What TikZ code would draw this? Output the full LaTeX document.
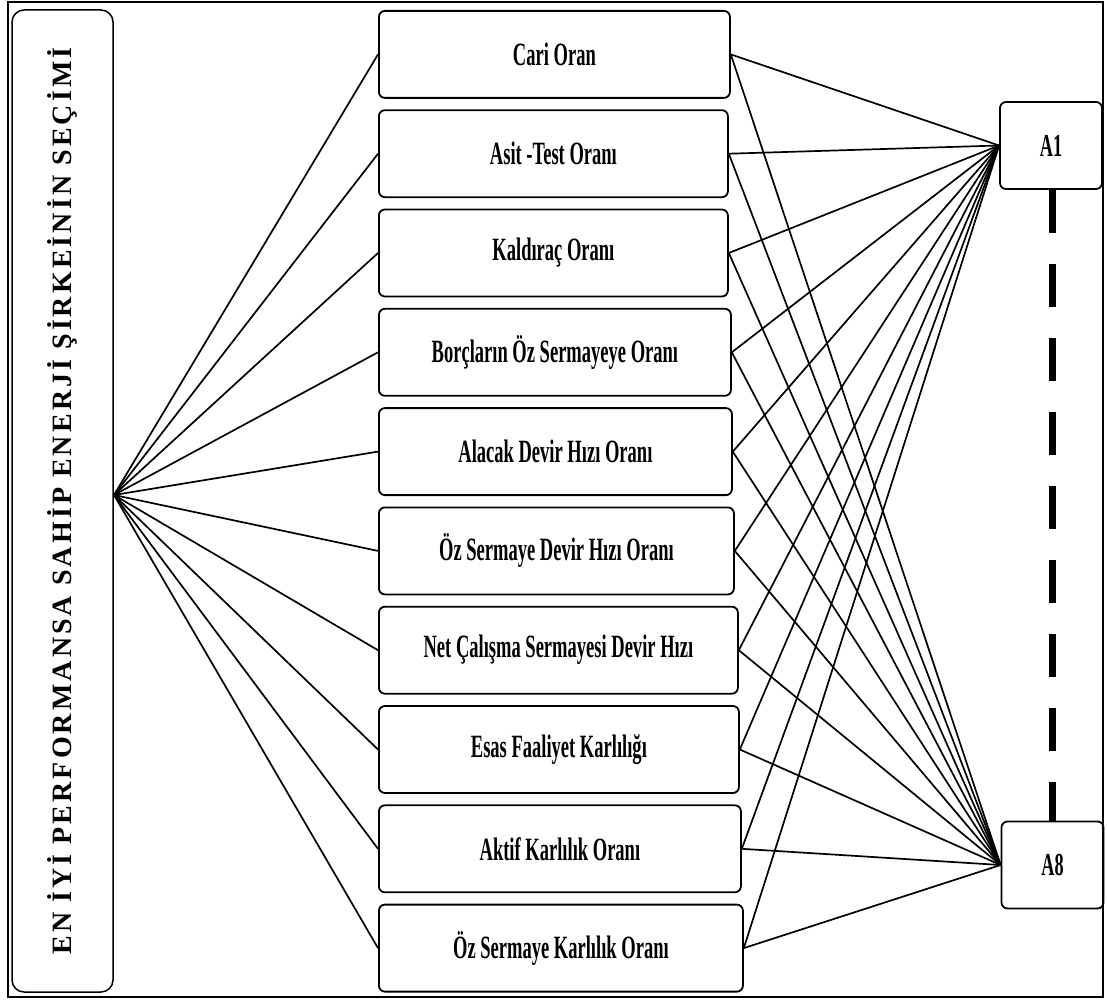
\documentclass[tikz,border=0pt]{standalone}
\usepackage{fontspec}
\setmainfont{Liberation Serif}
\newfontfamily\critfont[FakeStretch=0.57]{Liberation Serif}
\newfontfamily\titlefont[LetterSpace=11]{Liberation Serif}
\usetikzlibrary{positioning}

\tikzset{
  crit/.style={draw, rounded corners=6pt, line width=1.8pt, minimum height=87pt,
    inner sep=0pt, font=\critfont\bfseries\fontsize{32.5}{36}\selectfont},
  alt/.style={draw, rounded corners=6pt, line width=1.8pt, minimum width=102pt,
    minimum height=87pt, inner sep=0pt, font=\critfont\bfseries\fontsize{32}{36}\selectfont},
  link/.style={line width=1.7pt}
}

\begin{document}
\begin{tikzpicture}[x=1pt, y=-1pt]
  \useasboundingbox (0,0) rectangle (1107,1003);
  \draw[line width=2.5pt] (8,2) rectangle (1103,997);

  \node[draw, rounded corners=12pt, line width=1.5pt, rotate=90, minimum width=982pt,
    minimum height=101pt, inner sep=0pt,
    font=\titlefont\bfseries\fontsize{28}{32}\selectfont] (goal) at (62.5,501)
    {EN İYİ PERFORMANSA SAHİP ENERJİ ŞİRKEİNİN SEÇİMİ};
  \coordinate (hub) at (114,495);

  \node[crit, minimum width=351pt, anchor=north west] (c1) at (378,10) {Cari Oran};
  \node[crit, minimum width=349pt, below=10.5pt of c1.south west, anchor=north west] (c2) {Asit -Test Oranı};
  \node[crit, minimum width=349pt, below=10.5pt of c2.south west, anchor=north west] (c3) {Kaldıraç Oranı};
  \node[crit, minimum width=352pt, below=10.5pt of c3.south west, anchor=north west] (c4) {Borçların Öz Sermayeye Oranı};
  \node[crit, minimum width=353pt, below=10.5pt of c4.south west, anchor=north west] (c5) {Alacak Devir Hızı Oranı};
  \node[crit, minimum width=355pt, below=10.5pt of c5.south west, anchor=north west] (c6) {Öz Sermaye Devir Hızı Oranı};
  \node[crit, minimum width=359pt, below=10.5pt of c6.south west, anchor=north west] (c7) {Net Çalışma Sermayesi Devir Hızı};
  \node[crit, minimum width=360pt, below=10.5pt of c7.south west, anchor=north west] (c8) {Esas Faaliyet Karlılığı};
  \node[crit, minimum width=362pt, below=10.5pt of c8.south west, anchor=north west] (c9) {Aktif Karlılık Oranı};
  \node[crit, minimum width=364pt, below=10.5pt of c9.south west, anchor=north west] (c10) {Öz Sermaye Karlılık Oranı};

  \node[alt] (a1) at (1051,145.5) {A1};
  \node[alt] (a8) at (1052.5,865) {A8};

  % criteria to the goal and to the alternatives
  \foreach \i in {1,...,10} {
    \draw[link] (hub) -- (c\i.west);
    \draw[link] (c\i.east) -- (a1.west);
    \draw[link] (c\i.east) -- (a8.west);
  }

  \draw[line width=6.5pt, dash pattern=on 43pt off 31pt] (a1.south -| a8.north) -- (a8.north);
\end{tikzpicture}
\end{document}
